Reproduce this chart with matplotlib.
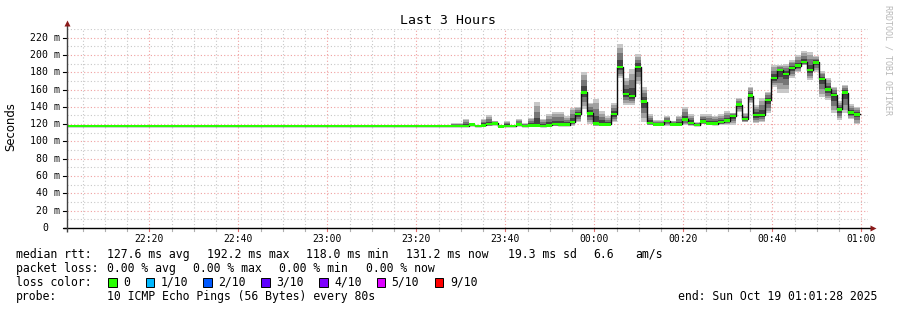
import numpy as np
import matplotlib
matplotlib.use("Agg")
import matplotlib.pyplot as plt
from matplotlib.transforms import blended_transform_factory

# ---------------- data ----------------
title = "Last 3 Hours"
interval_s = 80
first_sample_min = 1.0667          # minutes after 22:00 (22:01:04)
view_start_min = 1.4667            # 22:01:28
view_end_min = 181.4667            # 01:01:28

median_ms = [
    118.0, 118.0, 118.0, 118.0, 118.0, 118.0, 118.0, 118.0, 118.0, 118.0,
    118.0, 118.0, 118.0, 118.0, 118.0, 118.0, 118.0, 118.0, 118.0, 118.0,
    118.0, 118.0, 118.0, 118.0, 118.0, 118.0, 118.0, 118.0, 118.0, 118.0,
    118.0, 118.0, 118.0, 118.0, 118.0, 118.0, 118.0, 118.0, 118.0, 118.0,
    118.0, 118.0, 118.0, 118.0, 118.0, 118.0, 118.0, 118.0, 118.0, 118.0,
    118.0, 118.0, 118.0, 118.0, 118.0, 118.0, 118.0, 118.0, 118.0, 118.0,
    118.0, 118.0, 118.0, 118.0, 118.0, 118.0, 118.0, 118.0,
    119.5, 118.0, 118.5, 120.0, 121.0, 117.5, 118.0, 118.0, 119.5, 118.0,
    118.5, 118.5, 118.0, 118.5, 120.0, 119.5, 119.5, 122.4, 131.5, 156.7,
    132.5, 121.0, 119.8, 119.8, 131.5, 186.2, 154.8, 152.5, 186.0, 145.9,
    121.3, 119.8, 119.8, 123.6, 119.8, 119.8, 125.5, 121.3, 119.0, 123.0,
    121.0, 120.5, 122.4, 124.0, 129.3, 142.4, 125.9, 152.8, 130.5, 130.5,
    147.8, 173.2, 182.5, 178.2, 184.8, 187.5, 192.0, 182.5, 191.5, 172.0,
    160.2, 153.6, 137.0, 156.3, 133.2, 131.3,
]
smoke_lo_ms = [
    117.8, 117.8, 117.8, 117.8, 117.8, 117.8, 117.8, 117.8, 117.8, 117.8,
    117.8, 117.8, 117.8, 117.8, 117.8, 117.8, 117.8, 117.8, 117.8, 117.8,
    117.8, 117.8, 117.8, 117.8, 117.8, 117.8, 117.8, 117.8, 117.8, 117.8,
    117.8, 117.8, 117.8, 117.8, 117.8, 117.8, 117.8, 117.8, 117.8, 117.8,
    117.8, 117.8, 117.8, 117.8, 117.8, 117.8, 117.8, 117.8, 117.8, 117.8,
    117.8, 117.8, 117.8, 117.8, 117.8, 117.8, 117.8, 117.8, 117.8, 117.8,
    117.8, 117.8, 117.8, 117.8, 117.8, 117.8, 117.8, 117.8,
    118.0, 117.5, 118.0, 118.0, 118.0, 117.0, 118.0, 117.5, 118.0, 118.0,
    118.0, 118.0, 117.5, 118.0, 118.0, 118.0, 118.0, 118.0, 122.0, 138.0,
    119.8, 117.5, 118.0, 118.0, 122.0, 172.8, 142.0, 142.0, 165.8, 122.5,
    119.0, 118.0, 118.0, 118.0, 118.0, 118.0, 118.5, 118.0, 118.0, 119.8,
    119.0, 119.0, 119.0, 119.0, 119.0, 134.3, 122.0, 144.0, 120.9, 122.8,
    132.4, 163.2, 156.3, 156.3, 172.9, 180.6, 188.2, 171.0, 180.6, 151.7,
    147.8, 132.4, 124.7, 132.4, 125.9, 119.8,
]
smoke_hi_ms = [
    118.2, 118.2, 118.2, 118.2, 118.2, 118.2, 118.2, 118.2, 118.2, 118.2,
    118.2, 118.2, 118.2, 118.2, 118.2, 118.2, 118.2, 118.2, 118.2, 118.2,
    118.2, 118.2, 118.2, 118.2, 118.2, 118.2, 118.2, 118.2, 118.2, 118.2,
    118.2, 118.2, 118.2, 118.2, 118.2, 118.2, 118.2, 118.2, 118.2, 118.2,
    118.2, 118.2, 118.2, 118.2, 118.2, 118.2, 118.2, 118.2, 118.2, 118.2,
    118.2, 118.2, 118.2, 118.2, 118.2, 118.2, 118.2, 118.2, 118.2, 118.2,
    118.2, 118.2, 118.2, 118.2, 118.2, 121.0, 121.0, 126.0,
    121.0, 119.0, 126.0, 130.0, 124.0, 119.0, 124.0, 119.0, 126.0, 121.0,
    127.0, 145.5, 126.0, 132.0, 134.0, 134.0, 129.0, 139.0, 140.0, 180.5,
    145.0, 149.0, 135.0, 129.0, 144.0, 213.0, 173.0, 184.0, 200.6, 163.0,
    131.7, 125.0, 125.0, 129.0, 124.0, 129.7, 139.5, 131.7, 122.4, 131.3,
    131.3, 129.3, 131.3, 135.1, 133.0, 149.8, 132.4, 163.2, 142.0, 149.8,
    157.4, 188.2, 188.2, 189.0, 194.0, 199.8, 204.4, 203.6, 198.6, 181.3,
    172.9, 163.2, 146.7, 165.2, 142.9, 140.1,
]

y_ticks = [0, 20, 40, 60, 80, 100, 120, 140, 160, 180, 200, 220]
x_tick_min = [20, 40, 60, 80, 100, 120, 140, 160, 180]
x_tick_labels = ["22:20", "22:40", "23:00", "23:20", "23:40", "00:00", "00:20", "00:40", "01:00"]

legend_rows = [
    [("median rtt:", 16), ("127.6 ms avg", 107.3), ("192.2 ms max", 207.3),
     ("118.0 ms min", 306), ("131.2 ms now", 406), ("19.3 ms sd", 507.7),
     ("6.6", 593.3), ("am/s", 635)],
    [("packet loss:", 16), ("0.00 % avg", 107.3), ("0.00 % max", 193.3),
     ("0.00 % min", 279.3), ("0.00 % now", 365.7)],
]
loss_labels = ["0", "1/10", "2/10", "3/10", "4/10", "5/10", "9/10"]
loss_colors = ["#26ff00", "#00b8ff", "#0059ff", "#5e00ff", "#7e00ff", "#dd00ff", "#ff0000"]
probe_text = "10 ICMP Echo Pings (56 Bytes) every 80s"
end_text = "end: Sun Oct 19 01:01:28 2025"

# ---------------- figure ----------------
W, H = 897, 310
DPI = 100
fig = plt.figure(figsize=(W / DPI, H / DPI), dpi=DPI, facecolor="white")
ax_l, ax_r, ax_t, ax_b = 67, 868, 28.5, 228
ax = fig.add_axes([ax_l / W, 1 - ax_b / H, (ax_r - ax_l) / W, (ax_b - ax_t) / H])
ax.set_facecolor("white")

mono = "DejaVu Sans Mono"

med = np.array(median_ms)
lo = np.array(smoke_lo_ms)
hi = np.array(smoke_hi_ms)
n = len(med)
t_edges = first_sample_min + np.arange(n + 1) * interval_s / 60.0

def stepify(v):
    return np.append(v, v[-1])

# smoke layers (outer light -> inner dark)
layers = [(1.0, "#c8c8c8"), (0.82, "#a0a0a0"), (0.58, "#767676"), (0.3, "#444444")]
for frac, col in layers:
    l = med - (med - lo) * frac
    h = med + (hi - med) * frac
    ax.fill_between(t_edges, stepify(l), stepify(h), step="post", color=col, lw=0, zorder=2)

# median black step line
ax.step(t_edges, stepify(med), where="post", color="#101010", lw=1.0, zorder=3)
# green median band
ax.fill_between(t_edges, stepify(med - 1.45), stepify(med + 1.45), step="post",
                color=loss_colors[0], lw=0, zorder=4)

ax.set_xlim(view_start_min, view_end_min)
ax.set_ylim(0, 230.5)

# grid
for v in np.arange(5, 181, 5):
    major = (v % 20 == 0)
    ax.axvline(v, color="#f0a0a0" if major else "#c8c8c8", lw=0.8,
               linestyle=(0, (1, 2)), zorder=1)
for v in np.arange(10, 231, 10):
    major = (v % 20 == 0)
    ax.axhline(v, color="#f0a0a0" if major else "#c8c8c8", lw=0.8,
               linestyle=(0, (1, 2)), zorder=1)

for s in ax.spines.values():
    s.set_visible(False)
ax.set_xticks([])
ax.set_yticks([])

axw = ax_r - ax_l
axh = ax_b - ax_t
def fx(px):
    return (px - ax_l) / axw
def fy(py):
    return (ax_b - py) / axh

# axis lines + arrows
ax.plot([fx(62.5), fx(872)], [0, 0], color="black", lw=1.0, transform=ax.transAxes,
        clip_on=False, zorder=6, solid_capstyle="butt")
ax.plot([0, 0], [fy(232), fy(24)], color="#404040", lw=1.0, transform=ax.transAxes,
        clip_on=False, zorder=6, solid_capstyle="butt")
ax.plot([fx(872.5)], [0], marker=">", color="#8b1a1a", markersize=4.5, transform=ax.transAxes,
        clip_on=False, zorder=7, mec="none")
ax.plot([0], [fy(22.5)], marker="^", color="#8b1a1a", markersize=4.5, transform=ax.transAxes,
        clip_on=False, zorder=7, mec="none")

bx = blended_transform_factory(ax.transData, ax.transAxes)
by = blended_transform_factory(ax.transAxes, ax.transData)

# x ticks
for v in np.arange(5, 181, 5):
    major = (v % 20 == 0)
    ax.plot([v, v], [0, fy(230.5)], color="#e07070" if major else "#b0b0b0", lw=0.8,
            transform=bx, clip_on=False, zorder=5)
for v, lab in zip(x_tick_min, x_tick_labels):
    ax.text(v, fy(238.5), lab, transform=bx, ha="center", va="center",
            fontsize=7, family=mono, color="black")

# y ticks and labels
for v in y_ticks:
    ax.plot([fx(62.5), 0], [v, v], color="black", lw=0.8, transform=by, clip_on=False, zorder=5)
    if v == 0:
        ax.text(fx(48.6), v, "0", transform=by, ha="right", va="center",
                fontsize=7.1, family=mono, color="black")
    else:
        ax.text(fx(60.4), v, f"{v} m", transform=by, ha="right", va="center",
                fontsize=7.1, family=mono, color="black")

fig.text(11 / W, 1 - 127 / H, "Seconds", rotation=90, ha="center", va="center",
         fontsize=8.4, family="DejaVu Sans", color="black")

fig.text(447.5 / W, 1 - 20 / H, title, ha="center", va="center",
         fontsize=9.5, family=mono, color="black")

fig.text(887.5 / W, 1 - 60 / H, "RRDTOOL / TOBI OETIKER", rotation=270,
         ha="center", va="center", fontsize=6, family=mono, color="#b8b8b8")

# legend
row_y = [254.3, 268.3, 282.3, 296.3]
for r, items in enumerate(legend_rows):
    for txt, x in items:
        fig.text(x / W, 1 - row_y[r] / H, txt, ha="left", va="center",
                 fontsize=8.3, family=mono, color="black")

fig.text(16 / W, 1 - row_y[2] / H, "loss color:", ha="left", va="center",
         fontsize=8.3, family=mono, color="black")
box_x = [108.3, 145.7, 203.3, 261.3, 319.3, 376.7, 435.0]
for bxp, lab, col in zip(box_x, loss_labels, loss_colors):
    rect = plt.Rectangle((bxp / W, 1 - (row_y[2] + 4.2) / H), 8.4 / W, 8.4 / H,
                         transform=fig.transFigure, facecolor=col, edgecolor="black",
                         lw=0.7)
    fig.add_artist(rect)
    fig.text((bxp + 15) / W, 1 - row_y[2] / H, lab, ha="left", va="center",
             fontsize=8.3, family=mono, color="black")

fig.text(16 / W, 1 - row_y[3] / H, "probe:", ha="left", va="center",
         fontsize=8.3, family=mono, color="black")
fig.text(107.3 / W, 1 - row_y[3] / H, probe_text, ha="left", va="center",
         fontsize=8.3, family=mono, color="black")
fig.text(678.3 / W, 1 - row_y[3] / H, end_text, ha="left", va="center",
         fontsize=8.3, family=mono, color="black")

fig.savefig("out.png", dpi=DPI, facecolor="white")
